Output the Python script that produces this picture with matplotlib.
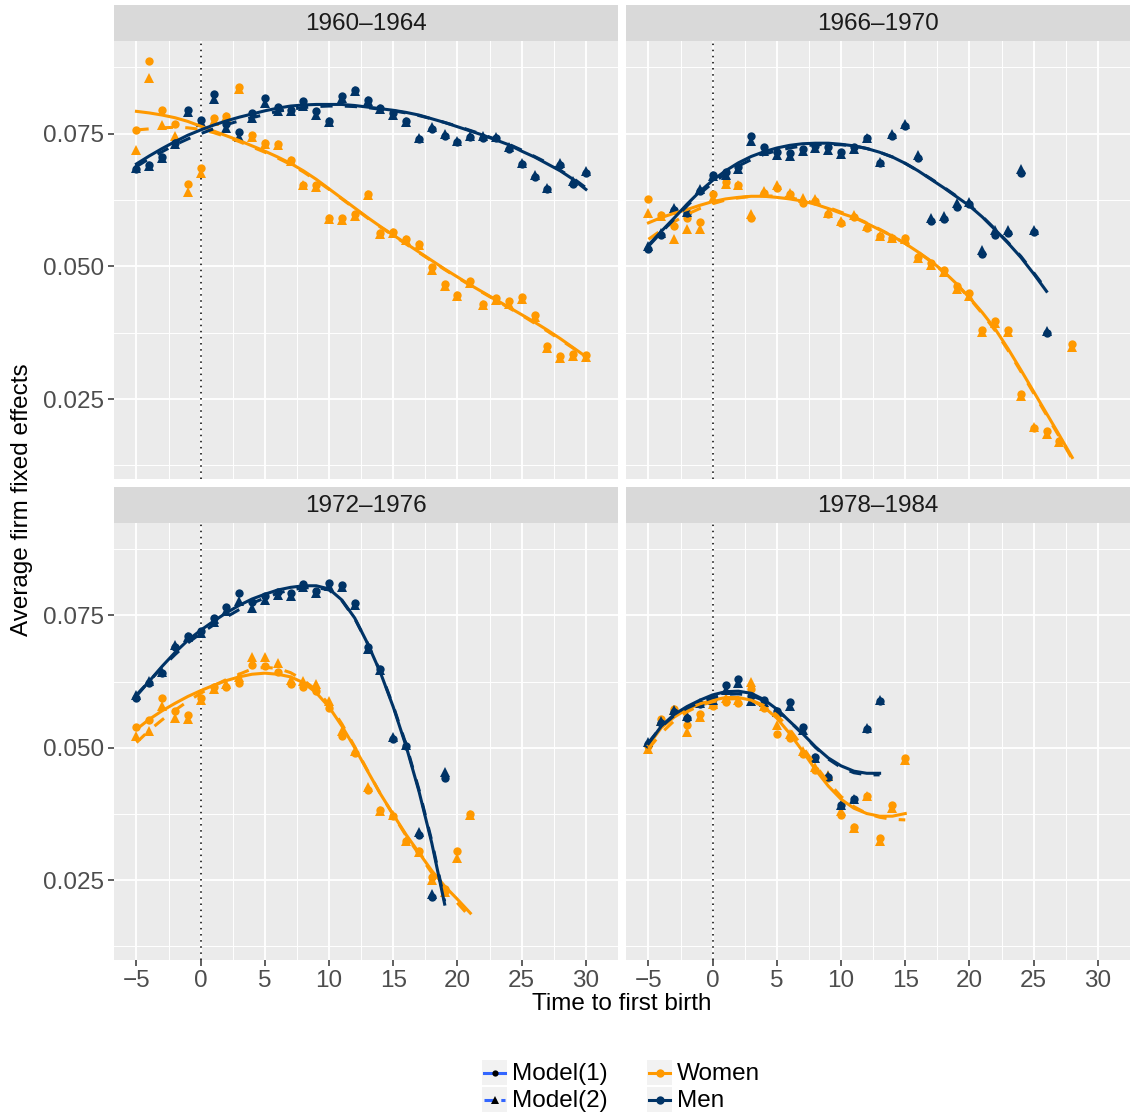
import numpy as np
import matplotlib.pyplot as plt
from matplotlib.patches import Rectangle

plt.rcParams['font.family'] = ['Liberation Sans', 'DejaVu Sans']

# cohort panels
cohorts = ["1960–1964", "1966–1970", "1972–1976", "1978–1984"]

# ---- 1960-1964 ----
t_w_6064 = list(range(-5, 31))
w1_6064 = [0.0757, 0.0887, 0.0795, 0.0769, 0.0656, 0.0685, 0.0780, 0.0783, 0.0837, 0.0747,
           0.0732, 0.0731, 0.0700, 0.0654, 0.0653, 0.0592, 0.0591, 0.0598, 0.0636, 0.0563,
           0.0564, 0.0552, 0.0543, 0.0498, 0.0466, 0.0447, 0.0472, 0.0430, 0.0440, 0.0434,
           0.0442, 0.0408, 0.0350, 0.0332, 0.0335, 0.0333]
w2_6064 = [0.0720, 0.0854, 0.0766, 0.0746, 0.0641, 0.0676, 0.0774, 0.0781, 0.0835, 0.0744,
           0.0730, 0.0729, 0.0698, 0.0653, 0.0650, 0.0590, 0.0588, 0.0595, 0.0634, 0.0561,
           0.0562, 0.0549, 0.0540, 0.0493, 0.0463, 0.0444, 0.0468, 0.0427, 0.0436, 0.0430,
           0.0438, 0.0404, 0.0346, 0.0327, 0.0332, 0.0330]
fw1_6064 = [0.0792, 0.0789, 0.0785, 0.0780, 0.0773, 0.0764, 0.0755, 0.0746, 0.0737, 0.0727,
            0.0717, 0.0706, 0.0694, 0.0680, 0.0664, 0.0646, 0.0628, 0.0610, 0.0592, 0.0575,
            0.0559, 0.0543, 0.0527, 0.0511, 0.0495, 0.0480, 0.0465, 0.0451, 0.0437, 0.0423,
            0.0409, 0.0395, 0.0380, 0.0364, 0.0347, 0.0330]
fw2_6064 = [0.0757, 0.0759, 0.0761, 0.0762, 0.0761, 0.0758, 0.0752, 0.0744, 0.0735, 0.0725,
            0.0715, 0.0704, 0.0692, 0.0678, 0.0662, 0.0645, 0.0627, 0.0609, 0.0591, 0.0574,
            0.0558, 0.0542, 0.0526, 0.0510, 0.0494, 0.0479, 0.0464, 0.0450, 0.0436, 0.0422,
            0.0408, 0.0393, 0.0378, 0.0362, 0.0346, 0.0330]
t_m_6064 = list(range(-5, 31))
m1_6064 = [0.0683, 0.0690, 0.0706, 0.0733, 0.0794, 0.0775, 0.0824, 0.0769, 0.0753, 0.0788,
           0.0818, 0.0801, 0.0795, 0.0812, 0.0793, 0.0774, 0.0820, 0.0832, 0.0814, 0.0798,
           0.0788, 0.0774, 0.0739, 0.0758, 0.0746, 0.0734, 0.0744, 0.0742, 0.0741, 0.0722,
           0.0692, 0.0669, 0.0645, 0.0691, 0.0656, 0.0676]
m2_6064 = [0.0685, 0.0689, 0.0704, 0.0730, 0.0791, 0.0771, 0.0815, 0.0760, 0.0744, 0.0780,
           0.0808, 0.0792, 0.0792, 0.0802, 0.0786, 0.0771, 0.0818, 0.0830, 0.0812, 0.0796,
           0.0785, 0.0772, 0.0741, 0.0763, 0.0749, 0.0736, 0.0746, 0.0746, 0.0744, 0.0725,
           0.0695, 0.0673, 0.0648, 0.0695, 0.0661, 0.0680]
fm1_6064 = [0.0693, 0.0708, 0.0722, 0.0735, 0.0747, 0.0757, 0.0766, 0.0774, 0.0781, 0.0787,
            0.0793, 0.0798, 0.0802, 0.0804, 0.0805, 0.0805, 0.0805, 0.0803, 0.0800, 0.0797,
            0.0794, 0.0790, 0.0785, 0.0778, 0.0771, 0.0763, 0.0755, 0.0747, 0.0738, 0.0729,
            0.0717, 0.0706, 0.0693, 0.0680, 0.0664, 0.0645]
fm2_6064 = [0.0688, 0.0703, 0.0716, 0.0729, 0.0740, 0.0750, 0.0759, 0.0767, 0.0774, 0.0780,
            0.0786, 0.0792, 0.0796, 0.0799, 0.0801, 0.0802, 0.0802, 0.0801, 0.0799, 0.0796,
            0.0793, 0.0789, 0.0784, 0.0778, 0.0771, 0.0764, 0.0756, 0.0748, 0.0739, 0.0730,
            0.0719, 0.0707, 0.0695, 0.0681, 0.0666, 0.0648]

# ---- 1966-1970 ----
t_w_6670 = list(range(-5, 29))
w1_6670 = [0.0627, 0.0596, 0.0576, 0.0592, 0.0583, 0.0636, 0.0658, 0.0653, 0.0592, 0.0639,
           0.0647, 0.0636, 0.0620, 0.0623, 0.0598, 0.0582, 0.0593, 0.0573, 0.0557, 0.0554,
           0.0554, 0.0517, 0.0507, 0.0494, 0.0463, 0.0449, 0.0381, 0.0398, 0.0381, 0.0260,
           0.0195, 0.0189, 0.0171, 0.0354]
w2_6670 = [0.0601, 0.0594, 0.0552, 0.0571, 0.0571, 0.0629, 0.0656, 0.0654, 0.0599, 0.0642,
           0.0653, 0.0639, 0.0629, 0.0626, 0.0601, 0.0585, 0.0597, 0.0576, 0.0558, 0.0553,
           0.0552, 0.0516, 0.0503, 0.0490, 0.0458, 0.0444, 0.0376, 0.0393, 0.0376, 0.0256,
           0.0197, 0.0184, 0.0169, 0.0349]
fw1_6670 = [0.0582, 0.0592, 0.0600, 0.0607, 0.0615, 0.0622, 0.0627, 0.0630, 0.0632, 0.0632,
            0.0630, 0.0627, 0.0623, 0.0617, 0.0609, 0.0600, 0.0592, 0.0581, 0.0569, 0.0557,
            0.0543, 0.0527, 0.0510, 0.0490, 0.0467, 0.0441, 0.0413, 0.0382, 0.0345, 0.0305,
            0.0264, 0.0223, 0.0182, 0.0140]
fw2_6670 = [0.0551, 0.0568, 0.0584, 0.0598, 0.0609, 0.0618, 0.0625, 0.0629, 0.0632, 0.0633,
            0.0632, 0.0629, 0.0625, 0.0619, 0.0611, 0.0602, 0.0593, 0.0582, 0.0570, 0.0557,
            0.0543, 0.0527, 0.0509, 0.0489, 0.0466, 0.0440, 0.0411, 0.0379, 0.0342, 0.0302,
            0.0261, 0.0220, 0.0179, 0.0137]
t_m_6670 = list(range(-5, 27))
m1_6670 = [0.0533, 0.0560, 0.0607, 0.0600, 0.0642, 0.0672, 0.0677, 0.0687, 0.0746, 0.0724,
           0.0715, 0.0714, 0.0722, 0.0727, 0.0725, 0.0716, 0.0725, 0.0741, 0.0695, 0.0746,
           0.0764, 0.0705, 0.0585, 0.0590, 0.0612, 0.0617, 0.0524, 0.0560, 0.0563, 0.0676,
           0.0565, 0.0375]
m2_6670 = [0.0538, 0.0563, 0.0610, 0.0602, 0.0645, 0.0670, 0.0672, 0.0683, 0.0737, 0.0717,
           0.0709, 0.0708, 0.0717, 0.0723, 0.0720, 0.0712, 0.0722, 0.0742, 0.0697, 0.0749,
           0.0769, 0.0709, 0.0591, 0.0595, 0.0619, 0.0622, 0.0531, 0.0569, 0.0568, 0.0683,
           0.0569, 0.0378]
fm1_6670 = [0.0540, 0.0566, 0.0591, 0.0617, 0.0641, 0.0662, 0.0680, 0.0695, 0.0707, 0.0716,
            0.0723, 0.0728, 0.0731, 0.0732, 0.0732, 0.0730, 0.0727, 0.0722, 0.0715, 0.0706,
            0.0694, 0.0680, 0.0664, 0.0648, 0.0631, 0.0614, 0.0593, 0.0569, 0.0544, 0.0517,
            0.0486, 0.0453]
fm2_6670 = [0.0538, 0.0564, 0.0589, 0.0614, 0.0637, 0.0657, 0.0674, 0.0689, 0.0701, 0.0711,
            0.0718, 0.0723, 0.0727, 0.0729, 0.0730, 0.0729, 0.0727, 0.0722, 0.0715, 0.0706,
            0.0694, 0.0680, 0.0665, 0.0649, 0.0632, 0.0615, 0.0594, 0.0570, 0.0545, 0.0519,
            0.0488, 0.0456]

# ---- 1972-1976 ----
t_w_7276 = list(range(-5, 22))
w1_7276 = [0.0540, 0.0553, 0.0595, 0.0570, 0.0562, 0.0594, 0.0614, 0.0615, 0.0622, 0.0657,
           0.0654, 0.0644, 0.0620, 0.0614, 0.0608, 0.0576, 0.0523, 0.0490, 0.0420, 0.0383,
           0.0372, 0.0324, 0.0306, 0.0256, 0.0234, 0.0306, 0.0376]
w2_7276 = [0.0523, 0.0532, 0.0579, 0.0556, 0.0554, 0.0591, 0.0611, 0.0620, 0.0633, 0.0672,
           0.0672, 0.0661, 0.0628, 0.0626, 0.0620, 0.0589, 0.0532, 0.0495, 0.0427, 0.0381,
           0.0373, 0.0325, 0.0303, 0.0251, 0.0227, 0.0293, 0.0373]
fw1_7276 = [0.0535, 0.0554, 0.0570, 0.0584, 0.0597, 0.0608, 0.0618, 0.0627, 0.0634, 0.0639,
            0.0641, 0.0639, 0.0634, 0.0623, 0.0604, 0.0577, 0.0541, 0.0500, 0.0456, 0.0413,
            0.0374, 0.0336, 0.0302, 0.0268, 0.0239, 0.0214, 0.0188]
fw2_7276 = [0.0510, 0.0533, 0.0553, 0.0571, 0.0588, 0.0603, 0.0617, 0.0629, 0.0639, 0.0649,
            0.0652, 0.0650, 0.0642, 0.0628, 0.0609, 0.0582, 0.0545, 0.0502, 0.0457, 0.0413,
            0.0373, 0.0334, 0.0299, 0.0264, 0.0234, 0.0207, 0.0180]
t_m_7276 = list(range(-5, 20))
m1_7276 = [0.0595, 0.0622, 0.0642, 0.0691, 0.0712, 0.0721, 0.0745, 0.0766, 0.0793, 0.0775,
           0.0787, 0.0795, 0.0793, 0.0809, 0.0797, 0.0812, 0.0807, 0.0773, 0.0690, 0.0649,
           0.0517, 0.0503, 0.0336, 0.0219, 0.0443]
m2_7276 = [0.0600, 0.0626, 0.0644, 0.0695, 0.0710, 0.0716, 0.0737, 0.0758, 0.0778, 0.0764,
           0.0779, 0.0789, 0.0787, 0.0803, 0.0792, 0.0806, 0.0804, 0.0770, 0.0686, 0.0647,
           0.0520, 0.0506, 0.0341, 0.0224, 0.0454]
fm1_7276 = [0.0598, 0.0626, 0.0654, 0.0680, 0.0703, 0.0722, 0.0739, 0.0755, 0.0769, 0.0781,
            0.0790, 0.0798, 0.0803, 0.0806, 0.0806, 0.0800, 0.0779, 0.0745, 0.0697, 0.0642,
            0.0577, 0.0503, 0.0418, 0.0320, 0.0205]
fm2_7276 = [0.0600, 0.0626, 0.0652, 0.0676, 0.0698, 0.0716, 0.0732, 0.0747, 0.0761, 0.0773,
            0.0783, 0.0792, 0.0798, 0.0802, 0.0803, 0.0798, 0.0778, 0.0744, 0.0697, 0.0643,
            0.0579, 0.0506, 0.0421, 0.0324, 0.0210]

# ---- 1978-1984 ----
t_w_7884 = list(range(-5, 16))
w1_7884 = [0.0503, 0.0554, 0.0574, 0.0543, 0.0563, 0.0579, 0.0587, 0.0585, 0.0612, 0.0576,
           0.0527, 0.0518, 0.0489, 0.0458, 0.0444, 0.0374, 0.0351, 0.0410, 0.0329, 0.0392,
           0.0480]
w2_7884 = [0.0498, 0.0551, 0.0571, 0.0530, 0.0558, 0.0582, 0.0595, 0.0591, 0.0624, 0.0579,
           0.0543, 0.0526, 0.0494, 0.0464, 0.0449, 0.0381, 0.0348, 0.0409, 0.0325, 0.0386,
           0.0478]
fw1_7884 = [0.0505, 0.0538, 0.0558, 0.0573, 0.0583, 0.0590, 0.0595, 0.0595, 0.0590, 0.0577,
            0.0556, 0.0527, 0.0494, 0.0459, 0.0428, 0.0403, 0.0386, 0.0376, 0.0371, 0.0371,
            0.0376]
fw2_7884 = [0.0498, 0.0528, 0.0551, 0.0568, 0.0580, 0.0587, 0.0592, 0.0593, 0.0590, 0.0580,
            0.0562, 0.0535, 0.0502, 0.0467, 0.0435, 0.0408, 0.0389, 0.0376, 0.0369, 0.0365,
            0.0364]
t_m_7884 = list(range(-5, 14))
m1_7884 = [0.0508, 0.0547, 0.0568, 0.0557, 0.0582, 0.0593, 0.0618, 0.0630, 0.0598, 0.0591,
           0.0569, 0.0586, 0.0539, 0.0483, 0.0445, 0.0393, 0.0403, 0.0535, 0.0588]
m2_7884 = [0.0512, 0.0550, 0.0572, 0.0560, 0.0585, 0.0591, 0.0610, 0.0623, 0.0588, 0.0586,
           0.0568, 0.0579, 0.0533, 0.0481, 0.0447, 0.0393, 0.0403, 0.0538, 0.0591]
fm1_7884 = [0.0508, 0.0541, 0.0563, 0.0578, 0.0590, 0.0600, 0.0606, 0.0607, 0.0603, 0.0591,
            0.0573, 0.0550, 0.0527, 0.0502, 0.0481, 0.0466, 0.0456, 0.0452, 0.0452]
fm2_7884 = [0.0510, 0.0540, 0.0561, 0.0575, 0.0586, 0.0595, 0.0601, 0.0602, 0.0599, 0.0589,
            0.0572, 0.0550, 0.0526, 0.0501, 0.0479, 0.0463, 0.0453, 0.0449, 0.0449]

x_ticks = [-5, 0, 5, 10, 15, 20, 25, 30]
y_ticks = [0.025, 0.050, 0.075]
y_labels = ["0.025", "0.050", "0.075"]

ORANGE = '#FF9900'
NAVY = '#003366'

# (t, model 1 points, model 2 points, model 1 fit, model 2 fit, colour)
panel_data = [
    [(t_w_6064, w1_6064, w2_6064, fw1_6064, fw2_6064, ORANGE),
     (t_m_6064, m1_6064, m2_6064, fm1_6064, fm2_6064, NAVY)],
    [(t_w_6670, w1_6670, w2_6670, fw1_6670, fw2_6670, ORANGE),
     (t_m_6670, m1_6670, m2_6670, fm1_6670, fm2_6670, NAVY)],
    [(t_w_7276, w1_7276, w2_7276, fw1_7276, fw2_7276, ORANGE),
     (t_m_7276, m1_7276, m2_7276, fm1_7276, fm2_7276, NAVY)],
    [(t_w_7884, w1_7884, w2_7884, fw1_7884, fw2_7884, ORANGE),
     (t_m_7884, m1_7884, m2_7884, fm1_7884, fm2_7884, NAVY)],
]

# shared limits with 5% padding
all_x, all_y = [], []
for panel in panel_data:
    for t, v1, v2, f1, f2, col in panel:
        all_x += list(t)
        all_y += list(v1) + list(v2) + list(f1) + list(f2)
ylo, yhi = min(all_y), max(all_y)
xlo, xhi = min(all_x), max(all_x)
ypad = (yhi - ylo) * 0.05
xpad = (xhi - xlo) * 0.05

W, H = 1130, 1117
fig = plt.figure(figsize=(W / 100, H / 100), dpi=100)


def add_ax(l, r, t, b):
    return fig.add_axes([l / W, 1 - b / H, (r - l) / W, (b - t) / H])


boxes = [(114, 618, 41, 479), (626, 1130, 41, 479),
         (114, 618, 523, 960), (626, 1130, 523, 960)]

for i, (l, r, t, b) in enumerate(boxes):
    ax = add_ax(l, r, t, b)
    ax.set_facecolor('#EBEBEB')
    for sp in ax.spines.values():
        sp.set_visible(False)
    ax.set_xlim(xlo - xpad, xhi + xpad)
    ax.set_ylim(ylo - ypad, yhi + ypad)
    ax.set_xticks(x_ticks)
    ax.set_xticks([v + 2.5 for v in [-7.5] + x_ticks], minor=True)
    ax.set_yticks(y_ticks)
    ax.set_yticks([0.0125, 0.0375, 0.0625, 0.0875], minor=True)
    ax.set_yticklabels(y_labels)
    ax.grid(which='major', color='white', lw=1.3)
    ax.grid(which='minor', color='white', lw=0.7)
    ax.set_axisbelow(True)
    ax.tick_params(which='minor', length=0)
    ax.tick_params(which='major', length=4, width=1.1, color='#333333',
                   labelsize=17.5, labelcolor='#4D4D4D', pad=3)
    if i % 2 == 1:
        ax.tick_params(axis='y', left=False, labelleft=False)
    if i < 2:
        ax.tick_params(axis='x', bottom=False, labelbottom=False)

    ax.axvline(0, color='black', ls=(0, (1, 3)), lw=1.1, zorder=2)

    for tt, v1, v2, f1, f2, col in panel_data[i]:
        ax.plot(tt, v1, 'o', color=col, ms=6, mew=0, zorder=3)
        ax.plot(tt, v2, '^', color=col, ms=6.5, mew=0, zorder=3)
    for tt, v1, v2, f1, f2, col in panel_data[i]:
        ax.plot(tt, f1, '-', color=col, lw=2.2, zorder=4, solid_joinstyle='round')
        ax.plot(tt, f2, ls=(0, (4, 4)), color=col, lw=2.2, zorder=4)

    sax = add_ax(l, r, t - 36, t)
    sax.set_facecolor('#D9D9D9')
    sax.set_xticks([])
    sax.set_yticks([])
    for sp in sax.spines.values():
        sp.set_visible(False)
    sax.text(0.5, 0.48, cohorts[i], ha='center', va='center',
             fontsize=17.5, color='#1A1A1A', transform=sax.transAxes)

fig.text(622 / W, 1 - 1004 / H, 'Time to first birth', ha='center', va='center',
         fontsize=17.5, color='black')
fig.text(22 / W, 1 - 500 / H, 'Average firm fixed effects', ha='center', va='center',
         rotation=90, fontsize=17.5, color='black')

# legend drawn in pixel space
lax = fig.add_axes([0, 0, 1, 1])
lax.set_xlim(0, W)
lax.set_ylim(H, 0)
lax.axis('off')
keys = [
    (482, 1060, '#3366FF', '-', 'o', 'black', 4.5, 'Model(1)'),
    (482, 1087, '#3366FF', (0, (4, 1.5)), '^', 'black', 5.5, 'Model(2)'),
    (647, 1060, ORANGE, '-', 'o', ORANGE, 6, 'Women'),
    (647, 1087, NAVY, '-', 'o', NAVY, 6, 'Men'),
]
for kx, ky, lc, ls, mk, mc, ms, lab in keys:
    lax.add_patch(Rectangle((kx, ky), 25, 25, facecolor='#F2F2F2', edgecolor='none'))
    lax.plot([kx + 2, kx + 23], [ky + 12.5, ky + 12.5], color=lc, ls=ls, lw=2.2)
    lax.plot([kx + 12.5], [ky + 12.5], mk, color=mc, ms=ms, mew=0)
    lax.text(kx + 30, ky + 14, lab, ha='left', va='center', fontsize=17.5, color='black')

fig.savefig('out.png', dpi=100)
